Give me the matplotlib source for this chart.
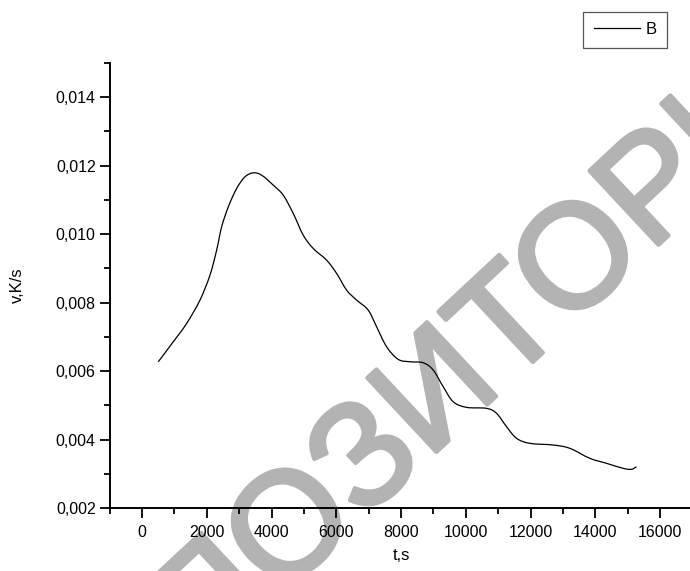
import matplotlib
matplotlib.use("Agg")
import matplotlib.pyplot as plt
import matplotlib.patheffects as pe
from matplotlib.path import Path
from matplotlib.patches import PathPatch
from matplotlib.lines import Line2D
from matplotlib.ticker import MultipleLocator, FuncFormatter

t_s = [503, 966, 1379, 1790, 2099, 2305, 2459, 2665, 2922, 3179, 3436, 3694, 4053,
       4361, 4670, 4978, 5287, 5700, 6009, 6318, 6627, 6985, 7244, 7553, 7911,
       8272, 8682, 8991, 9300, 9609, 10021, 10639, 10948, 11256, 11565, 11975,
       12694, 13210, 13827, 14343, 14855, 15114, 15268]
v_Ks = [0.006272, 0.006856, 0.007392, 0.008073, 0.008803, 0.009533, 0.010213,
        0.010797, 0.011334, 0.011674, 0.011791, 0.011723, 0.011431, 0.011139,
        0.010604, 0.009971, 0.009582, 0.009241, 0.008852, 0.008365, 0.008073,
        0.007781, 0.007294, 0.006710, 0.006342, 0.006272, 0.006243, 0.006030,
        0.005542, 0.005104, 0.004940, 0.004911, 0.004765, 0.004375, 0.004035,
        0.003889, 0.003840, 0.003743, 0.003451, 0.003305, 0.003159, 0.003130,
        0.003206]
series_name = "B"
x_label = "t,s"
y_label = "v,K/s"
watermark_left = "РЕПОЗИ"
watermark_right = "ТОРИЙ"

plt.rcParams['font.family'] = ['Liberation Sans', 'DejaVu Sans']

W, H = 690, 571
fig = plt.figure(figsize=(W / 100, H / 100), dpi=100)
ax = fig.add_axes([109.6 / W, 63 / H, 583 / W, 445 / H])
ax.set_zorder(1)
ax.patch.set_alpha(0)

# watermark
wm_color = '#b3b3b3'
wm = dict(fontsize=106, color=wm_color, fontweight='normal', rotation=43,
          rotation_mode='anchor', va='baseline', zorder=0,
          transform=fig.transFigure,
          path_effects=[pe.withStroke(linewidth=3, foreground=wm_color)])
wx, wy = 505 / W, 1 - 388 / H
fig.text(wx, wy, watermark_right, ha='left', **wm)
fig.text(wx, wy, watermark_left, ha='right', **wm)

# smooth (spline-connected) line through the data points, as Origin draws it
pts = list(zip(t_s, v_Ks))
n = len(pts)
verts = [pts[0]]
codes = [Path.MOVETO]
for i in range(n - 1):
    p0 = pts[i - 1] if i > 0 else pts[i]
    p1 = pts[i]
    p2 = pts[i + 1]
    p3 = pts[i + 2] if i + 2 < n else pts[i + 1]
    c1 = (p1[0] + (p2[0] - p0[0]) / 6, p1[1] + (p2[1] - p0[1]) / 6)
    c2 = (p2[0] - (p3[0] - p1[0]) / 6, p2[1] - (p3[1] - p1[1]) / 6)
    verts += [c1, c2, p2]
    codes += [Path.CURVE4] * 3
ax.add_patch(PathPatch(Path(verts, codes), facecolor='none', edgecolor='black',
                       lw=0.9, zorder=3, transform=ax.transData))

ax.set_xlim(-1000, 17000)
ax.set_ylim(0.002, 0.015)
for s in ['top', 'right']:
    ax.spines[s].set_visible(False)
for s in ['left', 'bottom']:
    ax.spines[s].set_linewidth(1.4)

ax.xaxis.set_major_locator(MultipleLocator(2000))
ax.xaxis.set_minor_locator(MultipleLocator(1000))
ax.yaxis.set_major_locator(MultipleLocator(0.002))
ax.yaxis.set_minor_locator(MultipleLocator(0.001))
ax.set_xticks([v for v in range(0, 17000, 2000)])
ax.yaxis.set_major_formatter(FuncFormatter(lambda v, p: f"{v:.3f}".replace('.', ',')))
ax.tick_params(which='major', length=7, width=1.3, labelsize=11.5, direction='out')
ax.tick_params(which='minor', length=4, width=1.3, direction='out')
ax.tick_params(axis='y', pad=3)
ax.tick_params(axis='x', pad=5)

ax.set_xlabel(x_label, fontsize=12, labelpad=6)
ax.set_ylabel(y_label, fontsize=12)
ax.yaxis.set_label_coords((25 - 109.6) / 583, 0.5)

handle = Line2D([], [], color='black', lw=0.9)
leg = ax.legend(handles=[handle], labels=[series_name], loc='upper right',
                bbox_to_anchor=(667 / W, 1 - 12 / H),
                bbox_transform=fig.transFigure, fancybox=False, shadow=False,
                fontsize=12, handlelength=2.75, borderpad=0.62, handletextpad=0.36,
                borderaxespad=0, framealpha=1)
leg.get_frame().set_edgecolor('#555555')
leg.get_frame().set_linewidth(0.9)

fig.savefig("out.png", dpi=100)
